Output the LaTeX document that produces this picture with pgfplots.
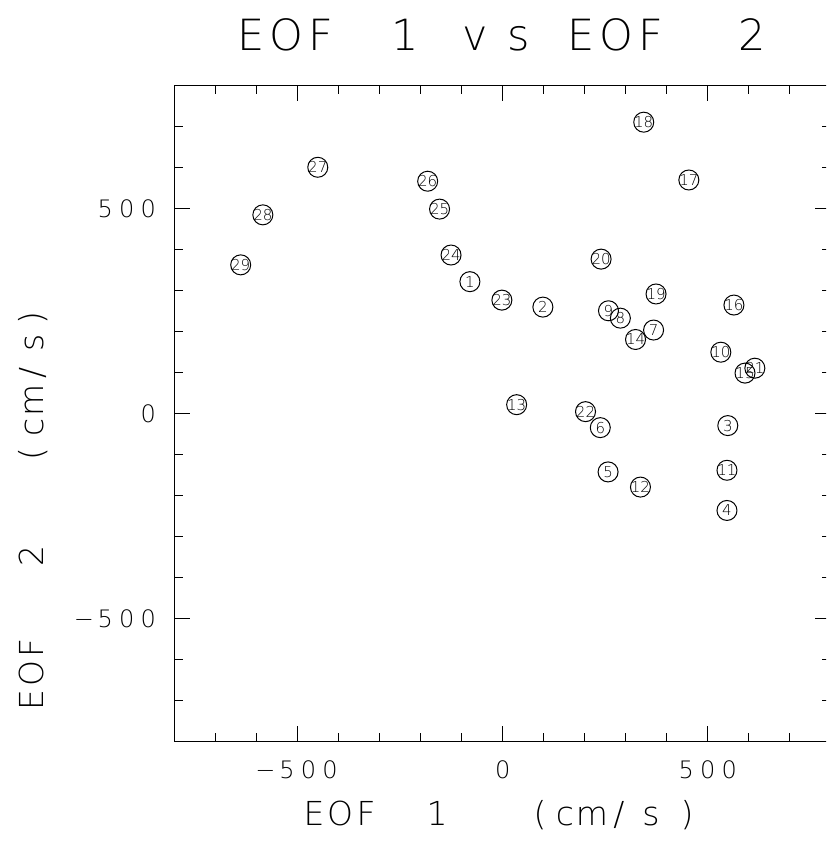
\documentclass[border=0pt]{standalone}
\usepackage{fontspec}
\setmainfont{DejaVuSans-ExtraLight.ttf}
\usepackage{pgfplots}
\pgfplotsset{compat=1.18}

% spread a word: every character in a cell of the same width
\newcommand\ls[2]{\def\lscw{#1}\lsA#2\relax}
\def\lsA#1{\ifx#1\relax\else\makebox[\lscw]{#1}\expandafter\lsA\fi}

\pgfplotstableread{
x    y    lab
-80  322  1
98   260  2
549  -29  3
547  -236 4
257  -142 5
238  -34  6
368  204  7
287  233  8
258  251  9
532  150  10
547  -138 11
336  -179 12
34   22   13
324  181  14
591  99   15
564  265  16
454  570  17
344  711  18
374  292  19
240  377  20
615  111  21
202  5    22
-2   277  23
-126 387  24
-154 499  25
-183 567  26
-451 601  27
-585 485  28
-639 363  29
}\eof

\begin{document}
\begin{tikzpicture}[x=0.5pt,y=0.5pt]
\path[use as bounding box] (0,0) rectangle (826,842);
\clip (0,0) rectangle (826,842);
\begin{axis}[
    at={(87.35pt,50.15pt)}, anchor=south west,
    width=328pt, height=328pt, scale only axis,
    xmin=-800, xmax=800, ymin=-800, ymax=800,
    xtick={-500,0,500}, ytick={-500,0,500},
    minor xtick={-700,-600,-400,-300,-200,-100,100,200,300,400,600,700},
    minor ytick={-700,-600,-400,-300,-200,-100,100,200,300,400,600,700},
    xticklabels={\ls{10.75pt}{−500},\ls{10.75pt}{0},\ls{10.75pt}{500}},
    yticklabels={\ls{10.75pt}{−500},\ls{10.75pt}{0},\ls{10.75pt}{500}},
    tick align=inside,
    major tick length=7.8pt, minor tick length=4.2pt,
    every tick/.style={black, line width=0.5pt},
    axis line style={line width=0.6pt},
    xticklabel style={font=\fontsize{12}{13}\selectfont, anchor=north,
        inner sep=0pt, yshift=-9.15pt},
    yticklabel style={font=\fontsize{12}{13}\selectfont, anchor=east,
        inner sep=0pt, xshift=-7.6pt},
]
\addplot[only marks, mark=o, mark size=5pt, black,
    mark options={line width=0.5pt},
    nodes near coords, point meta=explicit symbolic,
    every node near coord/.append style={anchor=center, inner sep=0pt,
        font=\fontsize{7.5}{8}\selectfont}]
    table[x=x, y=y, meta=lab] {\eof};
\end{axis}
% title
\begin{scope}[every node/.style={anchor=base, inner sep=0pt,
    font=\fontsize{21.5}{23}\selectfont}]
\node at (286,791) {\ls{17.5pt}{EOF}};
\node at (405,791) {1};
\node at (497,791) {\ls{21.5pt}{vs}};
\node at (616,791) {\ls{17.5pt}{EOF}};
\node at (752,791) {2};
\end{scope}
% x label
\begin{scope}[every node/.style={anchor=base, inner sep=0pt,
    font=\fontsize{16.5}{18}\selectfont}]
\node at (340,17) {\ls{13pt}{EOF}};
\node at (437,17) {1};
\node at (540,17) {(};
\node at (592,17) {\ls{13.5pt}{cm/}};
\node at (651,17) {s};
\node at (687,17) {)};
\end{scope}
% y label
\begin{scope}[every node/.style={anchor=base, inner sep=0pt, rotate=90,
    font=\fontsize{16.5}{18}\selectfont}]
\node at (43,168) {\ls{13pt}{EOF}};
\node at (43,286) {2};
\node at (43,388) {(};
\node at (43,442) {\ls{13.5pt}{cm/}};
\node at (43,499) {s};
\node at (43,524) {)};
\end{scope}
\end{tikzpicture}
\end{document}
